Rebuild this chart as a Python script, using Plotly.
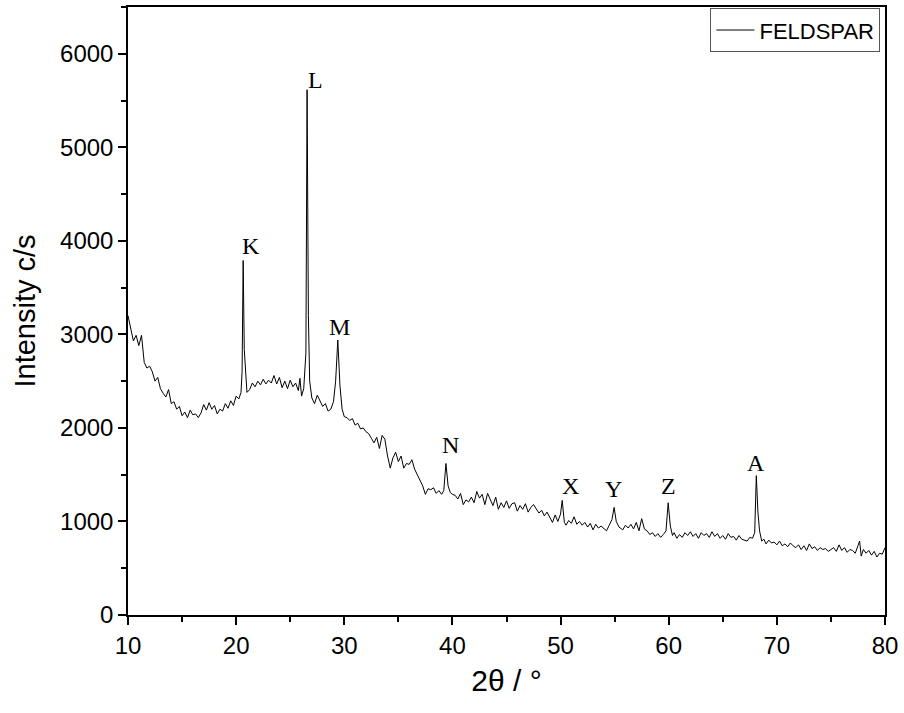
import plotly.graph_objects as go

two_theta = [
    10.00, 10.25, 10.50, 10.75, 11.00, 11.25, 11.50, 11.75, 12.00, 12.25, 12.50, 12.75,
    13.00, 13.25, 13.50, 13.75, 14.00, 14.25, 14.50, 14.75, 15.00, 15.25, 15.50, 15.75,
    16.00, 16.25, 16.50, 16.75, 17.00, 17.25, 17.50, 17.75, 18.00, 18.25, 18.50, 18.75,
    19.00, 19.25, 19.50, 19.75, 20.00, 20.25, 20.45, 20.55, 20.65, 20.75, 20.85, 21.00,
    21.25, 21.50, 21.75, 22.00, 22.25, 22.50, 22.75, 23.00, 23.25, 23.50, 23.75, 24.00,
    24.25, 24.50, 24.75, 25.00, 25.25, 25.50, 25.75, 25.90, 26.05, 26.25, 26.45, 26.56,
    26.68, 26.80, 27.00, 27.25, 27.50, 27.75, 28.00, 28.25, 28.50, 28.75, 29.00, 29.20,
    29.40, 29.60, 29.80, 30.00, 30.25, 30.50, 30.75, 31.00, 31.25, 31.50, 31.75, 32.00,
    32.25, 32.50, 32.75, 33.00, 33.25, 33.50, 33.75, 34.00, 34.25, 34.50, 34.75, 35.00,
    35.25, 35.50, 35.75, 36.00, 36.25, 36.50, 36.75, 37.00, 37.25, 37.50, 37.75, 38.00,
    38.25, 38.50, 38.75, 39.00, 39.20, 39.40, 39.60, 39.80, 40.00, 40.25, 40.50, 40.75,
    41.00, 41.25, 41.50, 41.75, 42.00, 42.25, 42.50, 42.75, 43.00, 43.25, 43.50, 43.75,
    44.00, 44.25, 44.50, 44.75, 45.00, 45.25, 45.50, 45.75, 46.00, 46.25, 46.50, 46.75,
    47.00, 47.25, 47.50, 47.75, 48.00, 48.25, 48.50, 48.75, 49.00, 49.25, 49.50, 49.75,
    50.00, 50.15, 50.35, 50.50, 50.75, 51.00, 51.25, 51.50, 51.75, 52.00, 52.25, 52.50,
    52.75, 53.00, 53.25, 53.50, 53.75, 54.00, 54.25, 54.50, 54.75, 54.95, 55.15, 55.40,
    55.75, 56.00, 56.25, 56.50, 56.75, 57.00, 57.25, 57.50, 57.75, 58.00, 58.25, 58.50,
    58.75, 59.00, 59.25, 59.50, 59.75, 59.95, 60.15, 60.35, 60.50, 60.75, 61.00, 61.25,
    61.50, 61.75, 62.00, 62.25, 62.50, 62.75, 63.00, 63.25, 63.50, 63.75, 64.00, 64.25,
    64.50, 64.75, 65.00, 65.25, 65.50, 65.75, 66.00, 66.25, 66.50, 66.75, 67.00, 67.25,
    67.50, 67.75, 67.95, 68.10, 68.25, 68.40, 68.60, 68.80, 69.00, 69.25, 69.50, 69.75,
    70.00, 70.25, 70.50, 70.75, 71.00, 71.25, 71.50, 71.75, 72.00, 72.25, 72.50, 72.75,
    73.00, 73.25, 73.50, 73.75, 74.00, 74.25, 74.50, 74.75, 75.00, 75.25, 75.50, 75.75,
    76.00, 76.25, 76.50, 76.75, 77.00, 77.25, 77.50, 77.65, 77.80, 78.00, 78.25, 78.50,
    78.75, 79.00, 79.25, 79.50, 79.75, 80.00,
]

intensity = [
    3200, 3050, 2930, 2990, 2880, 2990, 2700, 2640, 2660, 2600, 2500, 2540,
    2420, 2370, 2330, 2410, 2260, 2280, 2200, 2230, 2130, 2170, 2110, 2190,
    2140, 2150, 2110, 2160, 2250, 2190, 2270, 2200, 2240, 2150, 2200, 2180,
    2260, 2210, 2290, 2240, 2340, 2310, 2380, 2600, 3790, 2840, 2600, 2380,
    2410, 2480, 2440, 2500, 2460, 2520, 2470, 2510, 2480, 2560, 2470, 2540,
    2430, 2500, 2420, 2510, 2440, 2480, 2400, 2530, 2340, 2420, 2800, 5615,
    3200, 2500, 2320, 2260, 2350, 2280, 2230, 2260, 2180, 2200, 2280, 2500,
    2940, 2450, 2200, 2120, 2110, 2080, 2100, 2030, 2050, 1990, 2000, 1960,
    1940, 1890, 1840, 1900, 1780, 1920, 1880, 1700, 1570, 1680, 1740, 1640,
    1700, 1570, 1620, 1610, 1660, 1560, 1500, 1440, 1380, 1290, 1350, 1340,
    1360, 1300, 1330, 1290, 1330, 1620, 1380, 1310, 1290, 1280, 1240, 1300,
    1180, 1230, 1210, 1260, 1200, 1320, 1250, 1290, 1180, 1300, 1230, 1170,
    1260, 1130, 1200, 1150, 1220, 1140, 1190, 1200, 1110, 1170, 1130, 1190,
    1100, 1150, 1180, 1140, 1090, 1120, 1060, 1100, 1050, 990, 1070, 1000,
    1080, 1225, 990, 960, 1010, 980, 1050, 970, 1000, 960, 990, 940,
    980, 910, 970, 930, 950, 920, 900, 960, 1020, 1150, 1000, 940,
    910, 960, 930, 970, 920, 990, 900, 1030, 920, 900, 860, 880,
    840, 870, 830, 860, 900, 1200, 950, 850, 880, 820, 860, 830,
    880, 850, 890, 840, 870, 820, 880, 850, 870, 830, 890, 840,
    870, 820, 850, 810, 870, 830, 840, 800, 850, 810, 800, 790,
    830, 820, 880, 1490, 1100, 900, 790, 810, 760, 800, 770, 780,
    750, 790, 740, 760, 730, 770, 740, 720, 750, 700, 740, 690,
    760, 710, 730, 690, 720, 700, 710, 680, 700, 720, 680, 750,
    690, 720, 670, 700, 690, 660, 740, 790, 630, 700, 660, 690,
    640, 680, 620, 660, 650, 720,
]

peak_labels = ["K", "L", "M", "N", "X", "Y", "Z", "A"]
label_x = [21.4, 27.3, 29.6, 39.8, 50.9, 54.9, 60.0, 68.1]
label_y = [3940, 5720, 3080, 1820, 1375, 1350, 1375, 1620]

fig = go.Figure()
fig.add_trace(go.Scatter(
    x=two_theta, y=intensity, mode="lines", name="FELDSPAR",
    line=dict(color="black", width=1),
))

for t, lx, ly in zip(peak_labels, label_x, label_y):
    fig.add_annotation(x=lx, y=ly, text=t, showarrow=False,
                       font=dict(family="Liberation Serif", size=24, color="black"))

axis_common = dict(
    showline=True, linecolor="black", linewidth=1.5, mirror=True,
    ticks="outside", ticklen=8, tickwidth=1.5, tickcolor="black",
    showgrid=False, zeroline=False,
    tickfont=dict(family="Liberation Sans", size=24, color="black"),
)

fig.update_xaxes(range=[10, 80], dtick=10, tick0=10,
                 minor=dict(ticks="outside", ticklen=5, tickwidth=1.5, dtick=5, tick0=10, tickcolor="black"),
                 title=dict(text="2θ / °", font=dict(family="Liberation Sans", size=30, color="black"), standoff=12),
                 **axis_common)
fig.update_yaxes(range=[0, 6500], dtick=1000, tick0=0,
                 minor=dict(ticks="outside", ticklen=5, tickwidth=1.5, dtick=500, tickcolor="black"),
                 title=dict(text="Intensity c/s", font=dict(family="Liberation Sans", size=29, color="black"), standoff=16),
                 **axis_common)

fig.update_layout(
    width=904, height=713,
    margin=dict(l=128, r=19, t=5, b=98),
    plot_bgcolor="white", paper_bgcolor="white",
    showlegend=True,
    legend=dict(x=0.994, y=0.998, xanchor="right", yanchor="top",
                bordercolor="#555555", borderwidth=1, bgcolor="white",
                font=dict(family="Liberation Sans", size=22, color="black"),
                itemwidth=38, tracegroupgap=0),
)

fig.write_html("out.html", config={"displayModeBar": False},
               post_script="document.body.style.margin='0px';")
